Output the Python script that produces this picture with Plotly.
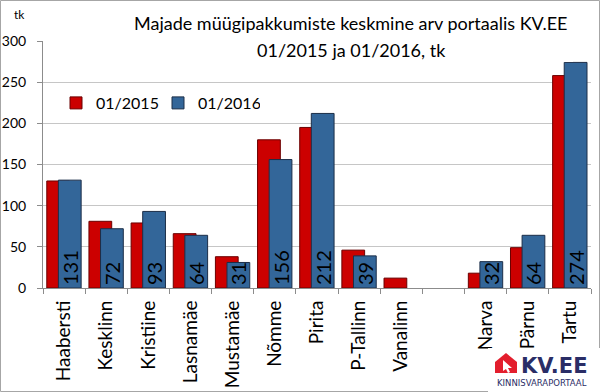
import plotly.graph_objects as go

categories = ["Haabersti", "Kesklinn", "Kristiine", "Lasnamäe", "Mustamäe", "Nõmme",
              "Pirita", "P-Tallinn", "Vanalinn", " ", "Narva", "Pärnu", "Tartu"]
values_2015 = [130, 81, 79, 66, 38, 180, 195, 46, 12, None, 18, 49, 258]
values_2016 = [131, 72, 93, 64, 31, 156, 212, 39, None, None, 32, 64, 274]
labels_2016 = ["" if v is None else str(v) for v in values_2016]
y_ticks = [0, 50, 100, 150, 200, 250, 300]

W, H = 600, 392
ML, MR, MT, MB = 43, 9, 41, 104
PW, PH = W - ML - MR, H - MT - MB


def px(x, y):
    return (x - ML) / PW, (H - MB - y) / PH


FONT = "Lato"

fig = go.Figure()
fig.add_trace(go.Bar(
    x=categories, y=values_2015, name="01/2015",
    marker=dict(color="#CC0000", line=dict(color="#6B0000", width=1)),
    width=0.54, offset=-0.41,
))
fig.add_trace(go.Bar(
    x=categories, y=values_2016, name="01/2016",
    marker=dict(color="#336699", line=dict(color="#1C2E48", width=1)),
    width=0.54, offset=-0.135,
    text=labels_2016, textposition="inside", insidetextanchor="start",
    textangle=-90, constraintext="none",
    textfont=dict(family=FONT, size=20, color="black"),
))

shapes = []
# outer border
x0, y0 = px(0.5, 0.5)
x1, y1 = px(599.5, 391.5)
shapes.append(dict(type="rect", xref="paper", yref="paper", x0=x0, y0=y0, x1=x1, y1=y1,
                   line=dict(color="#A6A6A6", width=1), fillcolor="rgba(0,0,0,0)", layer="above"))
# title background (hides the top gridline)
tx0, ty0 = px(130, 10)
tx1, ty1 = px(573, 62)
shapes.append(dict(type="rect", xref="paper", yref="paper", x0=tx0, y0=ty0, x1=tx1, y1=ty1,
                   line=dict(width=0), fillcolor="white", layer="above"))
# logo background
lx0, ly0 = px(488, 348)
lx1, ly1 = px(600, 392)
shapes.append(dict(type="rect", xref="paper", yref="paper", x0=lx0, y0=ly0, x1=lx1, y1=ly1,
                   line=dict(width=0), fillcolor="white", layer="above"))
# house icon
pts = [(495, 373), (495, 362), (506, 353), (517, 362), (517, 373)]
path = "M " + " L ".join("%f,%f" % px(a, b) for a, b in pts) + " Z"
shapes.append(dict(type="path", xref="paper", yref="paper", path=path,
                   fillcolor="#E31E2D", line=dict(width=0), layer="above"))
arrow = [(503, 360), (512, 368), (508, 368), (510, 372), (508, 373), (506, 369), (503, 371)]
path2 = "M " + " L ".join("%f,%f" % px(a, b) for a, b in arrow) + " Z"
shapes.append(dict(type="path", xref="paper", yref="paper", path=path2,
                   fillcolor="white", line=dict(width=0), layer="above"))

annotations = []
for txt, yy in [("Majade müügipakkumiste keskmine arv portaalis KV.EE", 23),
                ("01/2015 ja 01/2016, tk", 50)]:
    ax, ay = px(351, yy)
    annotations.append(dict(xref="paper", yref="paper", x=ax, y=ay, xanchor="center", yanchor="middle",
                            text=txt, showarrow=False,
                            font=dict(family=FONT, size=18, color="black")))
kx, ky = px(19, 15)
annotations.append(dict(xref="paper", yref="paper", x=kx, y=ky, xanchor="center", yanchor="middle",
                        text="tk", showarrow=False, font=dict(family=FONT, size=12, color="black")))
vx, vy = px(554, 366)
annotations.append(dict(xref="paper", yref="paper", x=vx, y=vy, xanchor="center", yanchor="middle",
                        text="<b>KV.EE</b>", showarrow=False,
                        font=dict(family="DejaVu Sans", size=21, color="#2A2D66")))
kpx, kpy = px(542, 383)
annotations.append(dict(xref="paper", yref="paper", x=kpx, y=kpy, xanchor="center", yanchor="middle",
                        text="KINNISVARAPORTAAL", showarrow=False,
                        font=dict(family="DejaVu Sans", size=8.5, color="#2A2D66")))

lgx, lgy = px(56, 103)
fig.update_layout(
    width=W, height=H,
    margin=dict(l=ML, r=MR, t=MT, b=MB, pad=0, autoexpand=False),
    paper_bgcolor="white", plot_bgcolor="white",
    barmode="overlay",
    showlegend=True,
    legend=dict(orientation="h", x=lgx, y=lgy, xanchor="left", yanchor="middle",
                font=dict(family=FONT, size=16, color="black"),
                entrywidth=57, entrywidthmode="pixels", bgcolor="rgba(0,0,0,0)"),
    xaxis=dict(type="category", categoryorder="array", categoryarray=categories,
               showline=True, linecolor="#8C8C8C", linewidth=1,
               ticks="outside", ticklen=5, tickcolor="#8C8C8C", tickson="boundaries",
               ticklabelstandoff=4,
               tickangle=-90, tickfont=dict(family=FONT, size=19, color="black"),
               showgrid=False, range=[-0.5, len(categories) - 0.5], automargin=False),
    yaxis=dict(range=[0, 300], tickvals=y_ticks, showline=True, linecolor="#8C8C8C", linewidth=1,
               ticks="outside", ticklen=5, tickcolor="#8C8C8C", ticklabelstandoff=8,
               showgrid=True, gridcolor="#C6C6C6", gridwidth=1.3, zeroline=False, automargin=False,
               tickfont=dict(family=FONT, size=14, color="black")),
    shapes=shapes,
    annotations=annotations,
)

fig.write_html("out.html", config={"displayModeBar": False},
               post_script="document.body.style.margin='0';")
